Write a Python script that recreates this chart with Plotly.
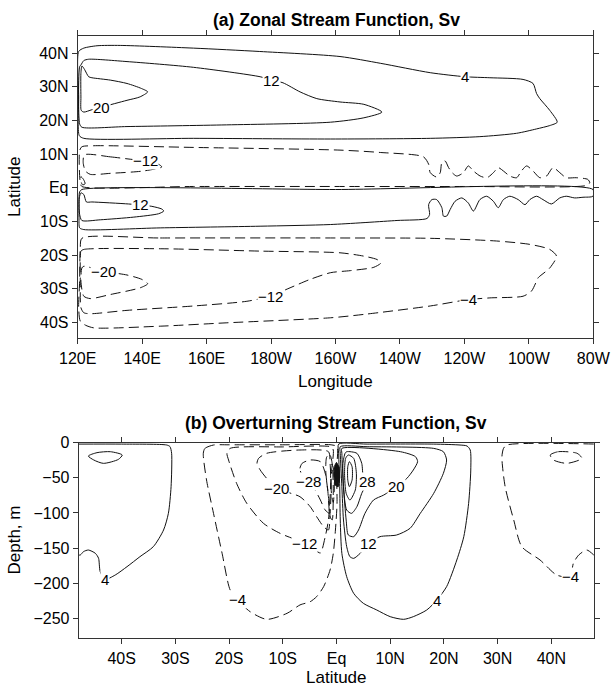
import plotly.graph_objects as go

# ---------------- Panel (a): zonal stream function, contour paths (lon degE, lat) ----------------
A_LON_TICKS = [120, 140, 160, 180, 200, 220, 240, 260, 280]
A_LON_LABELS = ["120E", "140E", "160E", "180W", "160W", "140W", "120W", "100W", "80W"]
A_LAT_TICKS = [-40, -30, -20, -10, 0, 10, 20, 30, 40]
A_LAT_LABELS = ["40S", "30S", "20S", "10S", "Eq", "10N", "20N", "30N", "40N"]

A_N_P4 = [(120.3, 40.5), (121.9, 41.5), (126.0, 42.2), (133.2, 42.3), (155.9, 41.5), (176.5, 40.5),
          (201.4, 39.0), (213.9, 37.0), (229.4, 34.2), (240.2, 33.0), (247.9, 32.7), (258.2, 32.2),
          (261.3, 31.0), (262.4, 28.0), (263.4, 26.5), (266.5, 23.0), (268.8, 19.5), (266.5, 18.5),
          (262.4, 17.5), (256.2, 16.2), (244.8, 15.2), (229.4, 14.7), (198.5, 14.5), (156.0, 14.7),
          (121.9, 14.7), (120.5, 15.5), (120.3, 27.0), (120.3, 40.5)]
A_N_P12 = [(121.0, 36.5), (121.9, 37.8), (123.4, 38.2), (135.3, 37.5), (155.9, 35.8), (176.6, 33.0),
           (180.2, 32.0), (183.7, 31.2), (189.0, 28.5), (194.2, 26.5), (201.4, 25.5), (208.8, 24.8),
           (214.4, 22.5), (208.8, 20.8), (198.5, 19.5), (166.2, 18.7), (135.3, 18.2), (121.3, 18.0),
           (120.6, 19.0), (120.6, 36.0), (121.0, 36.5)]
A_N_P20 = [(121.3, 36.2), (122.1, 35.2), (123.4, 33.0), (124.4, 32.7), (130.1, 32.0), (135.3, 31.0),
           (139.8, 29.5), (141.7, 28.5), (139.3, 27.0), (135.3, 26.0), (127.5, 24.0), (124.4, 23.2),
           (121.9, 22.5), (121.1, 23.0), (121.0, 27.0), (121.0, 34.0), (121.3, 36.2)]
A_N_M4 = [(121.3, 12.2), (125.0, 12.5), (156.0, 12.0), (201.4, 11.2), (213.9, 10.5), (227.3, 9.2),
          (228.9, 7.0), (229.4, 4.5), (231.4, 3.2), (232.5, 4.5), (233.0, 7.5), (234.0, 8.0),
          (235.1, 6.0), (236.2, 4.5), (237.6, 3.5), (239.7, 4.5), (241.2, 6.5), (242.8, 5.0),
          (244.9, 3.5), (247.0, 3.0), (249.0, 4.5), (250.5, 6.0), (252.1, 5.0), (254.1, 3.5),
          (256.2, 3.0), (257.7, 5.0), (259.3, 6.5), (261.3, 5.0), (263.4, 3.0), (265.5, 3.5),
          (267.5, 6.0), (269.6, 4.5), (271.6, 3.0), (274.7, 3.0), (278.3, 2.5), (278.9, 1.5),
          (277.8, 0.7), (239.7, 0.4), (198.5, 0.4), (156.0, 0.4), (121.3, 0.4), (120.8, 1.5),
          (120.6, 11.0), (121.3, 12.2)]
A_N_M12 = [(122.1, 9.8), (130.1, 9.2), (136.3, 8.5), (141.0, 8.0), (145.1, 7.0), (146.1, 6.2),
           (140.4, 5.0), (130.1, 4.3), (123.9, 4.0), (122.4, 5.0), (121.7, 7.5), (122.1, 9.8)]
A_N_M20 = [(121.0, 3.3), (121.8, 2.5), (122.3, 1.2), (121.5, 0.9), (121.0, 2.0), (121.0, 3.3)]

A_S_P4 = [(121.3, -0.5), (200.0, -0.5), (279.9, -0.5), (279.9, -2.5), (276.8, -2.8), (274.2, -3.0),
          (271.6, -2.5), (269.6, -3.0), (267.0, -4.8), (264.4, -3.5), (262.4, -2.5), (260.3, -3.5),
          (258.8, -5.0), (256.7, -3.5), (254.1, -2.5), (252.1, -3.5), (250.5, -5.9), (249.0, -4.0),
          (246.9, -2.5), (244.8, -3.5), (242.8, -6.9), (241.2, -4.5), (239.2, -3.0), (237.1, -4.0),
          (235.6, -6.4), (234.5, -8.4), (233.5, -8.4), (233.0, -5.9), (231.4, -3.5), (229.9, -3.5),
          (228.9, -5.0), (229.2, -7.9), (228.4, -9.1), (219.1, -9.7), (198.5, -10.9), (176.6, -11.4),
          (145.6, -11.9), (121.9, -12.4), (120.6, -11.9), (120.4, -8.9), (120.4, -3.0), (120.6, -1.2),
          (121.3, -0.5)]
A_S_P12 = [(121.0, -1.5), (121.9, -2.0), (122.7, -4.2), (124.4, -4.2), (135.8, -4.8), (139.4, -5.1),
           (143.0, -5.5), (146.1, -6.3), (146.7, -6.9), (145.1, -7.7), (137.4, -8.7), (127.0, -9.5),
           (121.3, -9.7), (120.6, -7.9), (120.5, -3.0), (121.0, -1.5)]
A_S_M4 = [(121.3, -15.0), (145.6, -14.9), (201.4, -14.9), (229.4, -15.0), (250.0, -15.8), (260.3, -16.8),
          (266.5, -18.3), (268.6, -20.3), (266.5, -23.8), (262.9, -26.7), (262.4, -27.7), (260.8, -30.7),
          (258.2, -32.2), (247.9, -32.7), (241.2, -33.2), (229.4, -35.1), (208.8, -37.6), (198.5, -38.6),
          (166.3, -40.1), (145.6, -41.1), (125.0, -41.6), (122.4, -40.8), (120.8, -39.6), (120.3, -35.6),
          (120.6, -27.7), (120.8, -17.8), (121.3, -15.0)]
A_S_M12 = [(121.0, -18.8), (121.9, -18.3), (145.6, -18.1), (176.6, -18.8), (201.4, -19.3), (208.8, -20.3),
           (212.9, -21.3), (214.1, -22.3), (211.9, -23.6), (204.6, -24.6), (198.5, -25.2), (192.1, -27.2),
           (185.9, -29.7), (179.7, -32.2), (172.5, -33.7), (156.0, -35.1), (135.3, -36.4), (123.9, -37.4),
           (121.9, -37.1), (121.0, -35.6), (120.8, -27.7), (120.8, -20.8), (121.0, -18.8)]
A_S_M20 = [(121.9, -23.3), (128.1, -24.8), (135.3, -25.9), (139.9, -27.2), (141.7, -28.5), (139.4, -29.7),
           (130.1, -31.7), (123.9, -32.9), (121.9, -32.2), (121.0, -27.7), (121.3, -23.8), (121.9, -23.3)]

A_CONTOURS = [(A_N_P4, 4), (A_N_P12, 12), (A_N_P20, 20), (A_N_M4, -4), (A_N_M12, -12), (A_N_M20, -20),
              (A_S_P4, 4), (A_S_P12, 12), (A_S_M4, -4), (A_S_M12, -12), (A_S_M20, -20)]
A_LABELS = [(240.2, 33.0, "4"), (180.2, 32.0, "12"), (127.5, 24.0, "20"), (141.0, 8.0, "−12"),
            (139.4, -5.1, "12"), (128.1, -24.8, "−20"), (179.7, -32.2, "−12"), (241.2, -33.2, "−4")]

# ---------------- Panel (b): overturning stream function, contour paths (lat, depth m) ----------------
B_LAT_TICKS = [-40, -30, -20, -10, 0, 10, 20, 30, 40]
B_LAT_LABELS = ["40S", "30S", "20S", "10S", "Eq", "10N", "20N", "30N", "40N"]
B_DEPTH_TICKS = [0, -50, -100, -150, -200, -250]

B_S_P4 = [(-48.0, -160.0), (-47.7, -159.9), (-47.1, -155.1), (-46.2, -152.8), (-44.9, -157.5), (-44.3, -164.6),
          (-44.0, -183.6), (-43.1, -194.6), (-41.2, -188.4), (-39.0, -176.5), (-36.6, -162.3), (-34.1, -148.0),
          (-32.2, -124.3), (-31.3, -100.6), (-30.8, -62.6), (-30.7, -15.1), (-31.0, -5.6), (-31.6, -3.3),
          (-40.0, -2.0), (-48.0, -2.0)]
B_S_P4B = [(-46.2, -19.0), (-44.6, -14.2), (-42.1, -12.8), (-39.9, -17.5), (-40.6, -23.7), (-43.4, -29.4),
           (-45.2, -24.6), (-46.2, -19.0)]
B_S_M4 = [(-22.9, -3.3), (-24.5, -8.1), (-24.8, -15.1), (-24.2, -53.1), (-22.9, -100.6), (-21.3, -157.5),
          (-19.8, -209.7), (-18.4, -223.9), (-16.1, -240.5), (-13.0, -251.5), (-9.2, -242.9), (-6.8, -231.0),
          (-4.9, -226.4), (-3.7, -219.2), (-2.4, -205.0), (-1.2, -181.3), (-0.6, -157.6), (-0.2, -124.3),
          (0.1, -86.4), (0.0, -38.9), (0.1, -5.6), (-1.0, -3.0), (-10.0, -3.0), (-20.0, -3.0), (-22.9, -3.3)]
B_S_M12 = [(-19.8, -8.1), (-20.4, -15.1), (-20.1, -24.6), (-18.6, -57.9), (-16.7, -86.4), (-13.6, -114.8),
           (-10.5, -129.1), (-6.0, -143.0), (-4.0, -152.8), (-3.0, -157.0), (-2.1, -133.8), (-1.5, -110.1),
           (-1.2, -76.9), (-0.9, -38.9), (-0.6, -10.4), (-1.0, -6.0), (-10.0, -6.0), (-19.8, -8.1)]
B_S_M20 = [(-14.8, -29.4), (-14.2, -38.9), (-13.0, -50.8), (-11.1, -65.0), (-6.8, -76.9), (-4.9, -91.1),
           (-3.7, -105.3), (-2.4, -119.6), (-1.5, -124.3), (-1.2, -100.6), (-1.0, -67.3), (-1.2, -29.4),
           (-1.5, -12.8), (-6.8, -10.4), (-13.0, -15.1), (-14.5, -22.3), (-14.8, -29.4)]
B_S_M28 = [(-6.5, -45.0), (-6.8, -36.5), (-6.4, -29.4), (-4.9, -24.6), (-3.0, -27.0), (-2.1, -43.6),
           (-1.5, -76.9), (-1.3, -100.6), (-2.1, -95.9), (-3.0, -81.6), (-4.0, -67.3), (-5.2, -55.5),
           (-6.5, -45.0)]
B_S_M36 = [(-1.8, -20.0), (-1.2, -18.0), (-0.8, -30.0), (-0.6, -70.0), (-0.8, -110.0), (-1.2, -105.0),
           (-1.6, -70.0), (-2.0, -40.0), (-1.8, -20.0)]
B_S_M44 = [(-1.0, -30.0), (-0.6, -35.0), (-0.4, -60.0), (-0.6, -85.0), (-0.9, -75.0), (-1.1, -50.0),
           (-1.0, -30.0)]

B_N_P4 = [(0.4, -2.0), (5.7, -2.0), (18.1, -2.0), (23.0, -3.3), (24.3, -4.7), (24.9, -10.4), (25.0, -38.9),
          (24.6, -86.4), (23.7, -133.8), (22.4, -167.0), (20.5, -205.0), (18.7, -224.0), (16.8, -238.2),
          (14.3, -247.7), (12.5, -251.5), (10.0, -247.7), (7.5, -238.2), (5.0, -228.7), (3.2, -214.5),
          (1.9, -190.8), (1.0, -157.6), (0.7, -110.1), (0.6, -62.6), (0.4, -15.1), (0.4, -2.0)]
B_N_P12 = [(0.7, -5.7), (5.7, -5.7), (18.1, -8.1), (19.9, -12.8), (20.5, -24.6), (19.9, -43.6),
           (18.1, -72.1), (15.6, -100.6), (13.7, -121.9), (11.2, -131.4), (8.1, -133.8), (6.0, -143.3),
           (4.4, -157.6), (3.2, -164.7), (2.5, -162.3), (1.9, -148.1), (1.3, -110.1), (1.0, -62.6),
           (0.7, -15.1), (0.7, -5.7)]
B_N_P20 = [(1.0, -8.1), (11.9, -12.8), (14.7, -19.9), (15.1, -27.0), (14.3, -38.9), (13.1, -50.8),
           (11.2, -62.6), (8.8, -74.5), (6.9, -81.6), (5.3, -100.6), (4.1, -124.3), (3.2, -133.8),
           (2.2, -131.4), (1.8, -110.1), (1.3, -62.6), (1.0, -15.1), (1.0, -8.1)]
B_N_P28 = [(1.9, -12.8), (3.8, -15.1), (4.7, -29.4), (5.0, -48.4), (5.7, -55.5), (4.7, -72.1), (3.8, -91.1),
           (2.8, -100.6), (1.9, -95.9), (1.3, -62.6), (1.2, -29.4), (1.6, -15.1), (1.9, -12.8)]
B_N_P36 = [(2.2, -17.5), (3.2, -22.3), (3.7, -43.6), (3.5, -67.3), (2.5, -81.6), (1.8, -72.1), (1.5, -43.6),
           (1.7, -22.3), (2.2, -17.5)]
B_N_P44 = [(2.4, -27.0), (2.9, -34.2), (2.9, -53.1), (2.4, -62.6), (2.1, -53.1), (2.1, -34.2), (2.4, -27.0)]
B_CORE = [(0.0, -28.0), (0.5, -35.0), (0.6, -50.0), (0.3, -63.0), (-0.3, -60.0), (-0.5, -45.0), (-0.3, -32.0),
          (0.0, -28.0)]

B_N_M4 = [(47.9, -1.9), (31.7, -3.3), (31.1, -8.1), (30.8, -19.9), (31.4, -62.6), (33.0, -110.1),
          (34.5, -148.0), (37.9, -167.0), (41.0, -188.4), (43.5, -190.7), (44.1, -171.8), (45.1, -159.9),
          (46.6, -152.8), (47.9, -159.9)]
B_N_M4B = [(39.8, -17.5), (41.3, -12.8), (44.8, -15.1), (45.7, -22.3), (42.9, -29.4), (40.4, -24.6),
           (39.8, -17.5)]

B_CONTOURS = [(B_S_P4, 4), (B_S_P4B, 4), (B_S_M4, -4), (B_S_M12, -12), (B_S_M20, -20), (B_S_M28, -28),
              (B_S_M36, -36), (B_S_M44, -44), (B_N_P4, 4), (B_N_P12, 12), (B_N_P20, 20), (B_N_P28, 28),
              (B_N_P36, 36), (B_N_P44, 44), (B_N_M4, -4), (B_N_M4B, -4)]
B_LABELS = [(-43.1, -194.6, "4"), (-18.4, -223.9, "−4"), (-11.1, -65.0, "−20"), (-5.3, -55.5, "−28"),
            (5.7, -55.5, "28"), (11.2, -62.6, "20"), (-6.0, -143.0, "−12"), (6.0, -143.3, "12"),
            (18.7, -224.0, "4"), (43.5, -190.7, "−4")]

FONT = "Liberation Sans, Arial, Helvetica, sans-serif"
W, H = 616, 689
ML, MR, MT, MB = 60, 10, 10, 30
PW, PH = W - ML - MR, H - MT - MB


def px_x(px):
    return (px - ML) / PW


def px_y(py):
    return (H - MB - py) / PH


fig = go.Figure()


def add_contours(contours, xa, ya):
    for pts, level in contours:
        fig.add_trace(go.Scatter(
            x=[p[0] for p in pts], y=[p[1] for p in pts], mode="lines",
            line=dict(color="#111", width=1, dash="10px,5px" if level < 0 else "solid",
                      shape="spline", smoothing=0.7),
            xaxis=xa, yaxis=ya, hoverinfo="skip", showlegend=False))


add_contours(A_CONTOURS, "x", "y")
add_contours(B_CONTOURS, "x2", "y2")
fig.add_trace(go.Scatter(x=[p[0] for p in B_CORE], y=[p[1] for p in B_CORE], mode="lines",
                         fill="toself", fillcolor="#111", line=dict(color="#111", width=1),
                         xaxis="x2", yaxis="y2", hoverinfo="skip", showlegend=False))

annotations = []
for x, y, t in A_LABELS:
    annotations.append(dict(x=x, y=y, xref="x", yref="y", text=t, showarrow=False, bgcolor="white",
                            borderpad=0, font=dict(size=15, family=FONT, color="black")))
for x, y, t in B_LABELS:
    annotations.append(dict(x=x, y=y, xref="x2", yref="y2", text=t, showarrow=False, bgcolor="white",
                            borderpad=0, font=dict(size=15, family=FONT, color="black")))

annotations += [
    dict(x=px_x(336), y=px_y(20), xref="paper", yref="paper", text="<b>(a) Zonal Stream Function, Sv</b>",
         showarrow=False, font=dict(size=17.5, family=FONT, color="black"), yanchor="middle"),
    dict(x=px_x(336), y=px_y(423), xref="paper", yref="paper",
         text="<b>(b) Overturning Stream Function, Sv</b>",
         showarrow=False, font=dict(size=17.5, family=FONT, color="black"), yanchor="middle"),
    dict(x=px_x(335.5), y=px_y(381), xref="paper", yref="paper", text="Longitude", showarrow=False,
         font=dict(size=17, family=FONT, color="black"), yanchor="middle"),
    dict(x=px_x(336.5), y=px_y(677), xref="paper", yref="paper", text="Latitude", showarrow=False,
         font=dict(size=17, family=FONT, color="black"), yanchor="middle"),
    dict(x=px_x(14), y=px_y(187), xref="paper", yref="paper", text="Latitude", showarrow=False,
         textangle=-90, font=dict(size=17, family=FONT, color="black"), xanchor="center", yanchor="middle"),
    dict(x=px_x(14), y=px_y(540.5), xref="paper", yref="paper", text="Depth, m", showarrow=False,
         textangle=-90, font=dict(size=17, family=FONT, color="black"), xanchor="center", yanchor="middle"),
]

axis_common = dict(showline=True, linecolor="#333", linewidth=1, mirror="ticks", ticks="outside",
                   ticklen=5, tickcolor="#333", showgrid=False, zeroline=False, automargin=False,
                   tickfont=dict(size=16, family=FONT, color="black"))

fig.update_layout(
    width=W, height=H, margin=dict(l=ML, r=MR, t=MT, b=MB, autoexpand=False),
    plot_bgcolor="white", paper_bgcolor="white", showlegend=False, hovermode=False,
    font=dict(family=FONT, size=16, color="black"),
    xaxis=dict(domain=[px_x(77.7), px_x(593.3)], anchor="y", range=[120, 280],
               tickvals=A_LON_TICKS, ticktext=A_LON_LABELS, **axis_common),
    yaxis=dict(domain=[px_y(338.3), px_y(36)], anchor="x", range=[-44.7, 45.1],
               tickvals=A_LAT_TICKS, ticktext=A_LAT_LABELS, **axis_common),
    xaxis2=dict(domain=[px_x(78.7), px_x(594.3)], anchor="y2", range=[-48, 48],
                tickvals=B_LAT_TICKS, ticktext=B_LAT_LABELS, **axis_common),
    yaxis2=dict(domain=[px_y(638.3), px_y(442.7)], anchor="x2", range=[-278.5, 0],
                tickvals=B_DEPTH_TICKS, **axis_common),
    annotations=annotations,
)

fig.write_html("out.html", config={"displayModeBar": False, "staticPlot": True},
               post_script="document.body.style.margin='0';document.body.style.padding='0';"
                           "document.body.style.overflow='hidden';")
